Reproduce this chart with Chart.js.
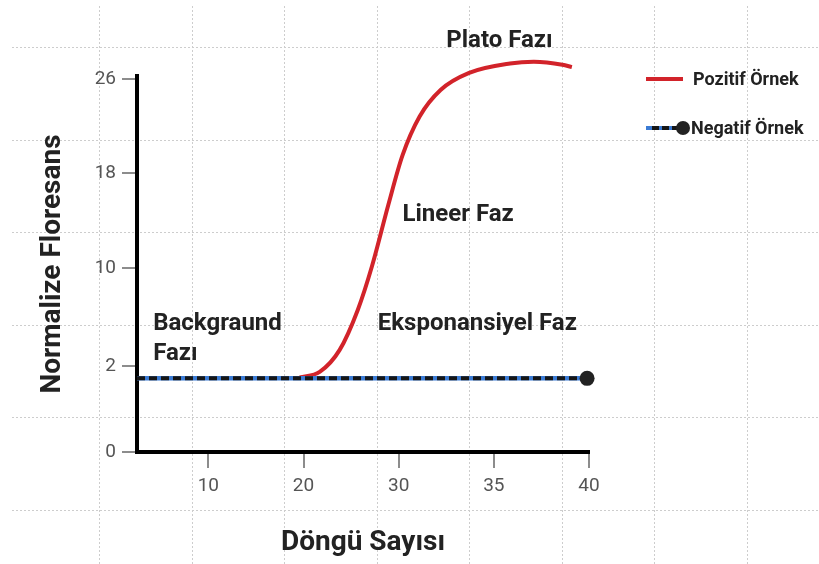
<!DOCTYPE html>
<html>
<head>
<meta charset="utf-8">
<script src="https://cdn.jsdelivr.net/npm/chart.js@4.4.0/dist/chart.umd.min.js"></script>
<style>
  html, body { margin: 0; padding: 0; background: #fff; }
  #wrap { width: 819px; height: 564px; }
</style>
</head>
<body>
<div id="wrap"><canvas id="grafico" width="819" height="564"></canvas></div>
<script>
// Ejes: ciclos (Döngü Sayısı) y floresans
const xTickCycles = [10, 20, 30, 35, 40];
const xTickLabels = ["10", "20", "30", "35", "40"];
const yTickValues = [0, 2, 10, 18, 26];
const yTickLabels = ["0", "2", "10", "18", "26"];

// Pozitif örnek (curva sigmoide)
const pozitifCycles = [19.6, 21.7, 23.8, 25.7, 27.2, 28.9, 30.2, 31.1, 32.2, 33.7, 35.85, 37.1, 38.6, 39.1];
const pozitifValues = [1.74, 1.87, 3.34, 6.6, 10.19, 15.3, 19.5, 22.8, 25.05, 26.5, 27.3, 27.45, 27.2, 27.0];

// Negatif örnek (línea plana)
const negatifCycles = [2.5, 39.9];
const negatifValues = [1.72, 1.72];

// Textos de las fases: [texto, ciclo, valor]
const fazlar = [
  ["Plato Fazı", 32.5, 28.7],
  ["Lineer Faz", 30.2, 14],
  ["Backgraund", 4.2, 4.94],
  ["Fazı", 4.2, 2.5],
  ["Eksponansiyel Faz", 27.8, 4.94]
];

// Las marcas de los ejes no son lineales: se reparten a intervalos iguales
const xSlots = [0, 1, 2, 3, 4, 5];
const xSlotCycles = [0].concat(xTickCycles);
const ySlots = [0, 0.9, 1.93, 2.93, 3.92];

function aSlot(v, desde, hasta) {
  let i = 1;
  while (i < desde.length - 1 && v > desde[i]) i++;
  const t = (v - desde[i - 1]) / (desde[i] - desde[i - 1]);
  return hasta[i - 1] + t * (hasta[i] - hasta[i - 1]);
}
const xPos = c => aSlot(c, xSlotCycles, xSlots);
const yPos = v => aSlot(v, yTickValues, ySlots);
const puntos = (xs, ys) => xs.map((c, i) => ({ x: xPos(c), y: yPos(ys[i]) }));

// Cuadrícula punteada de fondo
const papel = {
  id: "papel",
  beforeDraw(chart) {
    const c = chart.ctx;
    c.save();
    c.fillStyle = "#fff";
    c.fillRect(0, 0, chart.width, chart.height);
    c.strokeStyle = "#cdcdcd";
    c.lineWidth = 1;
    c.setLineDash([2, 2]);
    for (let k = 0; k < 8; k++) {
      const x = Math.round(99 + 92.5 * k) + 0.5;
      c.beginPath(); c.moveTo(x, 6); c.lineTo(x, chart.height); c.stroke();
    }
    for (let k = 0; k < 6; k++) {
      const y = Math.round(47 + 92.6 * k) + 0.5;
      c.beginPath(); c.moveTo(12, y); c.lineTo(chart.width, y); c.stroke();
    }
    c.restore();
  }
};

// Nombres de las fases
const notas = {
  id: "notas",
  afterDatasetsDraw(chart) {
    const c = chart.ctx;
    const sx = chart.scales.x, sy = chart.scales.y;
    c.save();
    c.font = "bold 24px Roboto";
    c.fillStyle = "#222";
    c.textBaseline = "alphabetic";
    fazlar.forEach(([texto, ciclo, valor]) => {
      c.fillText(texto, sx.getPixelForValue(xPos(ciclo)), sy.getPixelForValue(yPos(valor)));
    });
    c.restore();
  }
};

// Leyenda dibujada a mano
const leyenda = {
  id: "leyenda",
  afterDraw(chart) {
    const c = chart.ctx;
    const [negNegro, negAzul, poz] = chart.data.datasets;
    c.save();
    c.font = "bold 18px Roboto";
    c.textBaseline = "middle";
    c.fillStyle = "#222";

    c.strokeStyle = poz.borderColor;
    c.lineWidth = 4;
    c.beginPath(); c.moveTo(646, 79); c.lineTo(683, 79); c.stroke();
    c.fillText(poz.label, 693, 80);

    c.strokeStyle = negAzul.borderColor;
    c.lineWidth = 4;
    c.beginPath(); c.moveTo(646, 128); c.lineTo(683, 128); c.stroke();
    c.strokeStyle = negNegro.borderColor;
    c.lineWidth = 4;
    c.setLineDash([7, 3]);
    c.beginPath(); c.moveTo(652, 128); c.lineTo(683, 128); c.stroke();
    c.setLineDash([]);
    c.fillStyle = negNegro.pointBackgroundColor;
    c.beginPath(); c.arc(683, 128, 7, 0, Math.PI * 2); c.fill();
    c.fillStyle = "#222";
    c.fillText(negNegro.label, 691, 129);
    c.restore();
  }
};

const fuenteTick = { family: "Roboto", size: 19 };
const fuenteTitulo = { family: "Roboto", size: 28, weight: "bold" };

new Chart(document.getElementById("grafico"), {
  type: "line",
  data: {
    datasets: [
      {
        label: "Negatif Örnek",
        data: puntos(negatifCycles, negatifValues),
        borderColor: "#161616",
        borderWidth: 4,
        borderDash: [8, 4],
        pointRadius: [0, 7.5],
        pointBackgroundColor: "#222",
        pointBorderWidth: 0,
        clip: false,
      },
      {
        label: "Negatif Örnek (mavi)",
        data: puntos(negatifCycles, negatifValues),
        borderColor: "#3b7bd4",
        borderWidth: 4.5,
        pointRadius: 0,
        clip: false,
      },
      {
        label: "Pozitif Örnek",
        data: puntos(pozitifCycles, pozitifValues),
        borderColor: "#d2232a",
        borderWidth: 4,
        pointRadius: 0,
        cubicInterpolationMode: "monotone",
        clip: false,
      },
    ],
  },
  options: {
    responsive: false,
    animation: false,
    devicePixelRatio: 1,
    layout: { padding: { top: 76, right: 230, bottom: 0, left: 0 } },
    plugins: { legend: { display: false }, tooltip: { enabled: false } },
    scales: {
      x: {
        type: "linear",
        min: xPos(2.5),
        max: xPos(40),
        afterBuildTicks: s => { s.ticks = xTickCycles.map(c => ({ value: xPos(c) })); },
        afterFit: s => { s.height = 112; },
        ticks: { autoSkip: false, maxRotation: 0, callback: (v, i) => xTickLabels[i], color: "#555", font: fuenteTick, padding: 7 },
        grid: { drawOnChartArea: false, tickLength: 16, color: "#8c8c8c", lineWidth: 2 },
        border: { color: "#000", width: 4 },
        title: { display: true, text: "Döngü Sayısı", color: "#222", font: fuenteTitulo, padding: { top: 0, bottom: 4 } },
      },
      y: {
        type: "linear",
        min: 0,
        max: 3.95,
        afterBuildTicks: s => { s.ticks = yTickValues.map(v => ({ value: yPos(v) })); },
        afterFit: s => { s.width = 137; },
        ticks: { autoSkip: false, callback: (v, i) => yTickLabels[i], color: "#555", font: fuenteTick, padding: 6 },
        grid: { drawOnChartArea: false, tickLength: 15, color: "#8c8c8c", lineWidth: 2 },
        border: { color: "#000", width: 4 },
        title: { display: true, text: "Normalize Floresans", color: "#222", font: fuenteTitulo, padding: { top: 36, bottom: 0 } },
      },
    },
  },
  plugins: [papel, notas, leyenda],
});
</script>
</body>
</html>
